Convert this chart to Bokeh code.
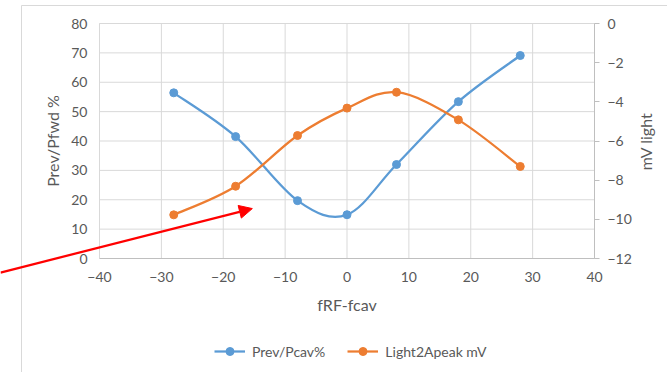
import math

from bokeh.plotting import figure
from bokeh.models import (Range1d, LinearAxis, FixedTicker, ColumnDataSource,
                          Legend, LegendItem, Arrow, NormalHead, Label)
from bokeh.embed import file_html
from bokeh.resources import INLINE

# Detuning sweep: reflected power ratio and light peak signal
freq_offset = [-28, -18, -8, 0, 8, 18, 28]
prev_pcav = [56.4, 41.5, 19.7, 14.9, 32.0, 53.4, 69.1]
light_peak_mv = [-9.77, -8.31, -5.72, -4.32, -3.51, -4.92, -7.30]

x_ticks = [-40, -30, -20, -10, 0, 10, 20, 30, 40]
left_ticks = [0, 10, 20, 30, 40, 50, 60, 70, 80]
right_ticks = [-12, -10, -8, -6, -4, -2, 0]

BLUE = "#5B9BD5"
ORANGE = "#ED7D31"
TEXT = "#595959"
GRID = "#D9D9D9"
AXIS = "#BFBFBF"
FONT = "Lato"

W, H = 667, 372
# plot-area placement inside the canvas (pixels)
AREA_L, AREA_R, AREA_T, AREA_B = 99, 594, 23, 258
# outer chart box corner (pixels)
BOX_L, BOX_T = 21, 5


def padded_range(lo, hi, px_lo, px_hi, total, flip=False):
    """Range whose [lo, hi] part occupies the pixel span [px_lo, px_hi]."""
    per_px = (hi - lo) / (px_hi - px_lo)
    if flip:   # vertical: pixel 0 is the top
        return Range1d(lo - (total - px_hi) * per_px, hi + px_lo * per_px)
    return Range1d(lo - px_lo * per_px, hi + (total - px_hi) * per_px)


def smooth_segments(xs, ys, k=1.0 / 6.0):
    """Cubic Bezier segments (Catmull-Rom style) through the given points."""
    n = len(xs)
    seg = dict(x0=[], y0=[], x1=[], y1=[], cx0=[], cy0=[], cx1=[], cy1=[])
    for i in range(n - 1):
        a = max(i - 1, 0)
        b = min(i + 2, n - 1)
        seg["x0"].append(xs[i])
        seg["y0"].append(ys[i])
        seg["x1"].append(xs[i + 1])
        seg["y1"].append(ys[i + 1])
        seg["cx0"].append(xs[i] + (xs[i + 1] - xs[a]) * k)
        seg["cy0"].append(ys[i] + (ys[i + 1] - ys[a]) * k)
        seg["cx1"].append(xs[i + 1] - (xs[b] - xs[i]) * k)
        seg["cy1"].append(ys[i + 1] - (ys[b] - ys[i]) * k)
    return ColumnDataSource(seg)


x_lo, x_hi = x_ticks[0], x_ticks[-1]
y_lo, y_hi = left_ticks[0], left_ticks[-1]
r_lo, r_hi = right_ticks[0], right_ticks[-1]

xr = padded_range(x_lo, x_hi, AREA_L, AREA_R, W)
yr = padded_range(y_lo, y_hi, AREA_T, AREA_B, H, flip=True)
rr = padded_range(r_lo, r_hi, AREA_T, AREA_B, H, flip=True)
x_per_px = (x_hi - x_lo) / (AREA_R - AREA_L)
y_per_px = (y_hi - y_lo) / (AREA_B - AREA_T)

p = figure(width=W, height=H, output_backend="svg", toolbar_location=None,
           x_range=xr, y_range=yr, x_axis_location=None, y_axis_location=None,
           min_border=0)
p.outline_line_color = None
p.background_fill_color = "white"
p.border_fill_color = "white"
p.grid.visible = False
p.extra_y_ranges = {"light": rr}

# outer chart box (left and top edges; the rest runs past the canvas)
box_x = xr.start + BOX_L * x_per_px
box_y = yr.end - BOX_T * y_per_px
p.segment(x0=[box_x, box_x], y0=[box_y, box_y], x1=[box_x, xr.end + 5],
          y1=[yr.start - 5, box_y], line_color=GRID, line_width=1)

# gridlines, limited to the plot area
p.segment(x0=x_ticks, y0=[y_lo] * len(x_ticks), x1=x_ticks, y1=[y_hi] * len(x_ticks),
          line_color=GRID, line_width=1)
p.segment(x0=[x_lo] * len(left_ticks), y0=left_ticks, x1=[x_hi] * len(left_ticks),
          y1=left_ticks, line_color=GRID, line_width=1)

# axes
bottom = LinearAxis(ticker=FixedTicker(ticks=x_ticks), axis_label="fRF-fcav",
                    fixed_location=y_lo, bounds=(x_lo, x_hi))
left = LinearAxis(ticker=FixedTicker(ticks=left_ticks), axis_label="Prev/Pfwd %",
                  fixed_location=x_lo, bounds=(y_lo, y_hi))
right = LinearAxis(y_range_name="light", ticker=FixedTicker(ticks=right_ticks),
                   fixed_location=x_hi, bounds=(r_lo, r_hi))
p.add_layout(bottom, "below")
p.add_layout(left, "left")
p.add_layout(right, "right")

for ax in (bottom, left, right):
    ax.major_label_text_font = FONT
    ax.major_label_text_font_size = "14px"
    ax.major_label_text_color = TEXT
    ax.axis_label_text_font = FONT
    ax.axis_label_text_font_size = "16px"
    ax.axis_label_text_font_style = "normal"
    ax.axis_label_text_color = TEXT
    ax.minor_tick_line_color = None
    ax.major_tick_in = 0

bottom.axis_line_color = AXIS
bottom.major_tick_out = 0
bottom.major_label_standoff = 13
bottom.axis_label_standoff = 10

left.axis_line_color = GRID
left.major_tick_out = 0
left.major_label_standoff = 12
left.axis_label_standoff = 6

right.axis_line_color = AXIS
right.major_tick_line_color = AXIS
right.major_tick_out = 5
right.major_label_standoff = 8

# secondary axis title, reading bottom to top like the primary one
p.add_layout(Label(text="mV light", x=xr.start + 645 * x_per_px,
                   y=yr.end - 141 * y_per_px, angle=math.pi / 2,
                   text_align="center", text_baseline="middle",
                   text_font=FONT, text_font_size="16px", text_color=TEXT))

# series
blue_curve = p.bezier(x0="x0", y0="y0", x1="x1", y1="y1", cx0="cx0", cy0="cy0",
                      cx1="cx1", cy1="cy1", source=smooth_segments(freq_offset, prev_pcav),
                      line_color=BLUE, line_width=2.25)
blue_pts = p.scatter(freq_offset, prev_pcav, size=8, color=BLUE)

orange_curve = p.bezier(x0="x0", y0="y0", x1="x1", y1="y1", cx0="cx0", cy0="cy0",
                        cx1="cx1", cy1="cy1",
                        source=smooth_segments(freq_offset, light_peak_mv),
                        line_color=ORANGE, line_width=2.25, y_range_name="light")
orange_pts = p.scatter(freq_offset, light_peak_mv, size=8, color=ORANGE,
                       y_range_name="light")

legend = Legend(items=[LegendItem(label="Prev/Pcav%", renderers=[blue_curve, blue_pts]),
                       LegendItem(label="Light2Apeak mV", renderers=[orange_curve, orange_pts])],
                orientation="horizontal", location=(214, 11),
                glyph_width=31, glyph_height=20, label_height=20, label_standoff=7,
                spacing=22, padding=0, margin=0,
                border_line_color=None, background_fill_alpha=0,
                label_text_font=FONT, label_text_font_size="14px",
                label_text_color=TEXT)
p.add_layout(legend)

# red pointer arrow
p.add_layout(Arrow(end=NormalHead(size=13, fill_color="#FF0000", line_color="#FF0000"),
                   x_start=xr.start, y_start=-4.8, x_end=-15.3, y_end=17.0,
                   line_color="#FF0000", line_width=2.25))

open("out.html", "w").write(file_html(p, INLINE))
